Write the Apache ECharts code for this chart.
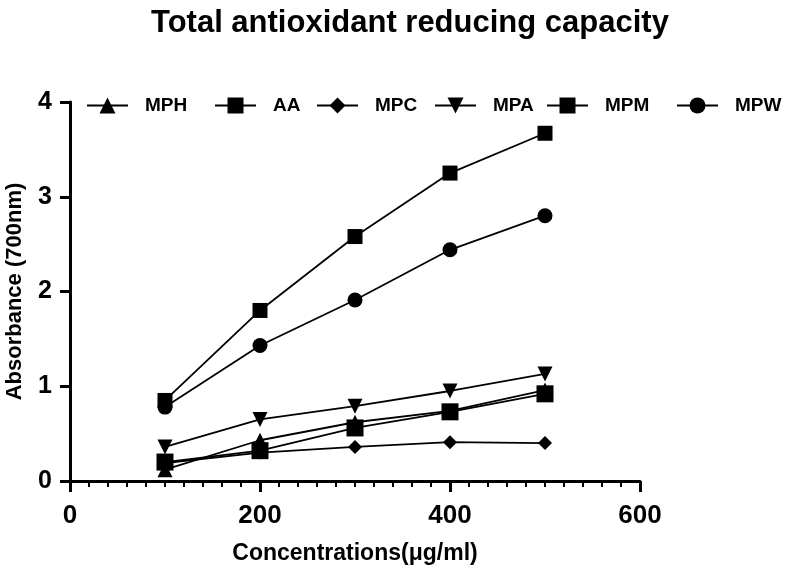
<!DOCTYPE html>
<html><head><meta charset="utf-8">
<script src="https://cdn.jsdelivr.net/npm/echarts@6/dist/echarts.min.js"></script>
<style>html,body{margin:0;padding:0;background:#fff}#c{width:786px;height:578px}</style>
</head><body><div id="c"></div>
<script>
const concentrations = [100, 200, 300, 400, 500];
const MPH = [0.12, 0.43, 0.62, 0.74, 0.96];
const AA  = [0.20, 0.32, 0.56, 0.73, 0.92];
const MPC = [0.19, 0.30, 0.36, 0.41, 0.40];
const MPA = [0.36, 0.65, 0.79, 0.95, 1.13];
const MPM = [0.85, 1.80, 2.58, 3.25, 3.67];
const MPW = [0.78, 1.43, 1.91, 2.44, 2.80];
const seriesNames = ['MPH', 'AA', 'MPC', 'MPA', 'MPM', 'MPW'];
const xTicks = [0, 200, 400, 600];
const yTicks = [0, 1, 2, 3, 4];

const FONT = '"Liberation Sans", Arial, Helvetica, sans-serif';
const seriesData = [MPH, AA, MPC, MPA, MPM, MPW];
const symbols = [
  {symbol: 'triangle', size: 15, rotate: 0},
  {symbol: 'rect', size: 17, rotate: 0},
  {symbol: 'diamond', size: 14, rotate: 0},
  {symbol: 'triangle', size: 15, rotate: 180},
  {symbol: 'rect', size: 15, rotate: 0},
  {symbol: 'circle', size: 15, rotate: 0}
];
const legendLeft = [81, 209, 311, 429, 541, 671];

const chart = echarts.init(document.getElementById('c'), null, {renderer: 'canvas'});
chart.setOption({
  animation: false,
  backgroundColor: '#fff',
  title: {
    text: 'Total antioxidant reducing capacity',
    left: 146, top: 3,
    textStyle: {fontFamily: FONT, fontWeight: 'bold', fontSize: 31, color: '#000'}
  },
  legend: seriesNames.map((n, i) => ({
    data: [n],
    left: legendLeft[i], top: 91,
    itemWidth: 41, itemHeight: 20, itemGap: 0,
    textStyle: {fontFamily: FONT, fontWeight: 'bold', fontSize: 19, color: '#000', padding: [0, 0, 0, 12]},
    inactiveColor: '#000', selectedMode: false
  })),
  grid: {left: 70, right: 146, top: 102, bottom: 97, containLabel: false, outerBoundsMode: 'none'},
  xAxis: {
    type: 'value', min: xTicks[0], max: xTicks[xTicks.length - 1], interval: 200,
    name: 'Concentrations(\u03bcg/ml)', nameLocation: 'middle', nameGap: 61,
    nameTextStyle: {fontFamily: FONT, fontWeight: 'bold', fontSize: 23, color: '#000'},
    axisLine: {lineStyle: {color: '#000', width: 3}},
    axisTick: {show: true, length: 11, lineStyle: {color: '#000', width: 3}},
    minorTick: {show: true, splitNumber: 10, length: 6, lineStyle: {color: '#000', width: 2}},
    splitLine: {show: false}, minorSplitLine: {show: false},
    axisLabel: {fontFamily: FONT, fontWeight: 'bold', fontSize: 26, color: '#000', margin: 22}
  },
  yAxis: {
    type: 'value', min: yTicks[0], max: yTicks[yTicks.length - 1], interval: 1,
    name: 'Absorbance (700nm)', nameLocation: 'middle', nameGap: 44,
    nameTextStyle: {fontFamily: FONT, fontWeight: 'bold', fontSize: 22, color: '#000'},
    axisLine: {lineStyle: {color: '#000', width: 3}},
    axisTick: {show: true, length: 10, lineStyle: {color: '#000', width: 3}},
    splitLine: {show: false},
    axisLabel: {fontFamily: FONT, fontWeight: 'bold', fontSize: 25, color: '#000', margin: 18}
  },
  series: seriesNames.map((n, i) => ({
    name: n, type: 'line',
    data: concentrations.map((c, j) => [c, seriesData[i][j]]),
    symbol: symbols[i].symbol, symbolSize: symbols[i].size, symbolRotate: symbols[i].rotate,
    showAllSymbol: true,
    itemStyle: {color: '#000', borderWidth: 0},
    lineStyle: {color: '#000', width: 1.8}
  }))
});
</script></body></html>
